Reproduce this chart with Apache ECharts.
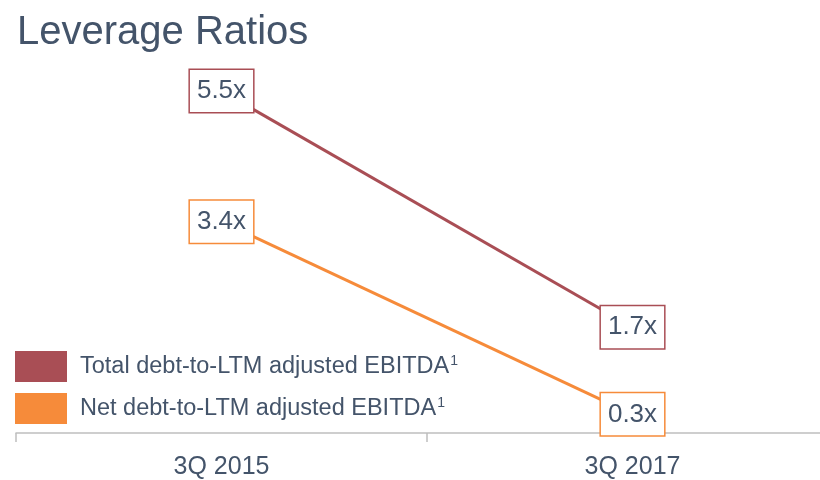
<!DOCTYPE html>
<html>
<head>
<meta charset="utf-8">
<script src="https://cdn.jsdelivr.net/npm/echarts@6/dist/echarts.min.js"></script>
<style>
  html, body { margin: 0; padding: 0; background: #fff; }
  #chart { width: 820px; height: 480px; }
</style>
</head>
<body>
<div id="chart"></div>
<script>
var quarters = ['3Q 2015', '3Q 2017'];
var totalDebt = [5.5, 1.7];
var netDebt = [3.4, 0.3];
var seriesNames = ['Total debt-to-LTM adjusted EBITDA', 'Net debt-to-LTM adjusted EBITDA'];

var textColor = '#44546A';
var redColor = '#A94E55';
var orangeColor = '#F68B3A';

function boxLabel(color) {
    return {
        show: true,
        position: 'inside',
        formatter: function (p) { return p.value.toFixed(1) + 'x'; },
        fontFamily: 'Liberation Sans',
        fontSize: 26,
        lineHeight: 26,
        color: textColor,
        backgroundColor: '#fff',
        borderColor: color,
        borderWidth: 1.5,
        padding: [8, 7]
    };
}

var mychart = echarts.init(document.getElementById('chart'));
mychart.setOption({
    animation: false,
    title: {
        text: 'Leverage Ratios',
        left: 12,
        top: 8,
        textStyle: {
            fontFamily: 'Liberation Sans',
            fontWeight: 'normal',
            fontSize: 40,
            color: textColor
        }
    },
    legend: {
        orient: 'vertical',
        left: 15,
        top: 351,
        padding: 0,
        itemWidth: 52,
        itemHeight: 31,
        itemGap: 11,
        icon: 'rect',
        data: seriesNames,
        formatter: function (name) { return name + '{sup|1}'; },
        textStyle: {
            fontFamily: 'Liberation Sans',
            fontSize: 23.5,
            color: textColor,
            padding: [0, 0, 0, 8],
            rich: {
                sup: { fontFamily: 'Liberation Sans', fontSize: 14, color: textColor, padding: [0, 0, 10, 1] }
            }
        }
    },
    grid: { left: 16, top: 60, width: 822, bottom: 47, outerBoundsMode: 'none' },
    xAxis: {
        type: 'category',
        data: quarters,
        boundaryGap: true,
        axisLine: { lineStyle: { color: '#BFBFBF', width: 1.5 } },
        axisTick: { show: true, length: 9, lineStyle: { color: '#BFBFBF', width: 1.5 } },
        axisLabel: {
            margin: 22,
            fontFamily: 'Liberation Sans',
            fontSize: 25,
            color: textColor
        }
    },
    yAxis: { type: 'value', min: 0, max: 6, show: false },
    series: [{
        name: seriesNames[0],
        type: 'line',
        data: totalDebt,
        symbol: 'circle',
        symbolSize: 1,
        lineStyle: { color: redColor, width: 3 },
        itemStyle: { color: redColor },
        label: boxLabel(redColor)
    }, {
        name: seriesNames[1],
        type: 'line',
        data: netDebt,
        symbol: 'circle',
        symbolSize: 1,
        lineStyle: { color: orangeColor, width: 3 },
        itemStyle: { color: orangeColor },
        label: boxLabel(orangeColor)
    }]
});
</script>
</body>
</html>
